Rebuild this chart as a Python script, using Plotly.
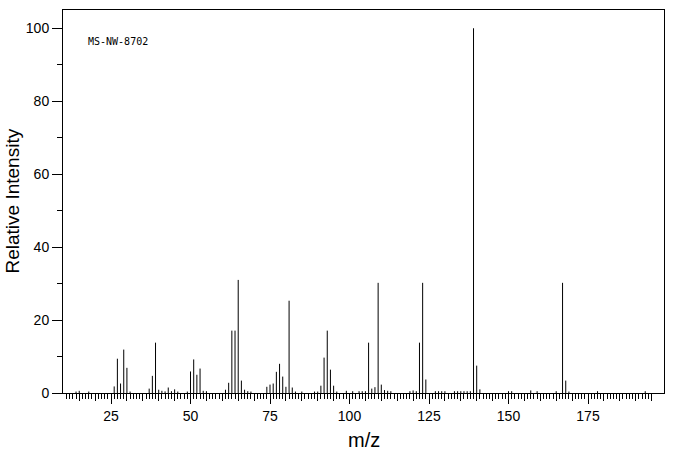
import plotly.graph_objects as go

# m/z values and relative intensities
mz = [14, 15, 18, 26, 27, 28, 29, 30, 31, 37, 38, 39, 40, 41, 42, 43, 44, 45, 46,
      49, 50, 51, 52, 53, 54, 55, 61, 62, 63, 64, 65, 66, 67, 68, 69, 74, 75, 76,
      77, 78, 79, 80, 81, 82, 83, 85, 89, 90, 91, 92, 93, 94, 95, 96, 99, 101,
      103, 104, 105, 106, 107, 108, 109, 110, 111, 112, 113, 119, 120, 121, 122,
      123, 124, 127, 128, 129, 130, 133, 134, 135, 136, 137, 138, 139, 140, 141,
      150, 151, 157, 159, 165, 167, 168, 169, 178, 193]
intensity = [0.4, 0.6, 0.4, 1.8, 9.4, 2.6, 11.9, 6.9, 0.4, 1.2, 4.7, 13.8, 0.9, 0.6,
             0.45, 1.5, 0.5, 1.0, 0.4, 0.4, 5.9, 9.2, 5.0, 6.7, 0.6, 0.5, 0.9, 2.8,
             17.1, 17.1, 31.0, 3.4, 0.9, 0.5, 0.4, 1.7, 2.3, 2.6, 5.8, 8.0, 4.5, 1.7,
             25.3, 1.5, 0.4, 0.4, 0.4, 0.4, 2.0, 9.7, 17.1, 6.4, 2.0, 0.4, 0.6, 0.5,
             0.5, 0.5, 0.5, 13.8, 1.2, 1.6, 30.2, 2.3, 0.8, 0.6, 0.5, 0.5, 0.7, 0.5,
             13.8, 30.2, 3.7, 0.5, 0.5, 0.5, 0.5, 0.5, 0.5, 0.5, 0.5, 0.5, 0.5, 100.0,
             7.5, 1.0, 0.5, 0.5, 0.7, 0.5, 0.5, 30.2, 3.4, 0.4, 0.5, 0.5]

x_major = [25, 50, 75, 100, 125, 150, 175]
x_medium = list(range(15, 196, 5))
x_minor = list(range(11, 196))
y_major = [0, 20, 40, 60, 80, 100]
y_minor = [10, 30, 50, 70, 90]
label_text = "MS-NW-8702"

# stick segments built from the data
xs, ys = [], []
for m, v in zip(mz, intensity):
    xs += [m, m, None]
    ys += [0, v, None]

fig = go.Figure()
fig.add_trace(go.Scatter(x=xs, y=ys, mode="lines",
                         line=dict(color="black", width=1),
                         hoverinfo="skip", showlegend=False))
# invisible trace to anchor the secondary (medium-tick) axis
fig.add_trace(go.Scatter(x=[x_medium[0]], y=[0], mode="markers",
                         marker=dict(opacity=0), xaxis="x2",
                         hoverinfo="skip", showlegend=False))

tick_font = dict(family="Liberation Sans", size=14, color="black")

fig.update_layout(
    width=676, height=455,
    margin=dict(l=63, r=12, t=10, b=62, autoexpand=False),
    paper_bgcolor="white", plot_bgcolor="white",
    xaxis=dict(range=[9.9, 198.9], tickmode="array", tickvals=x_major,
               ticks="outside", ticklen=10, tickwidth=1, tickcolor="black",
               showline=True, linecolor="black", linewidth=1, mirror=True,
               showgrid=False, zeroline=False, tickfont=tick_font,
               automargin=False,
               minor=dict(tickmode="array", tickvals=x_minor, ticks="outside",
                          ticklen=5, tickwidth=1, tickcolor="black", showgrid=False)),
    xaxis2=dict(range=[9.9, 198.9], overlaying="x", side="bottom",
                tickmode="array", tickvals=x_medium, ticks="outside",
                ticklen=7, tickwidth=1, tickcolor="black",
                showticklabels=False, showline=False, showgrid=False,
                zeroline=False, automargin=False),
    yaxis=dict(range=[0, 105], tickmode="array", tickvals=y_major,
               ticks="outside", ticklen=10, tickwidth=1, tickcolor="black",
               showline=True, linecolor="black", linewidth=1, mirror=True,
               showgrid=False, zeroline=False, tickfont=tick_font,
               automargin=False,
               minor=dict(tickmode="array", tickvals=y_minor, ticks="outside",
                          ticklen=5, tickwidth=1, tickcolor="black", showgrid=False)),
    annotations=[
        dict(text="m/z", xref="paper", yref="paper", x=0.5, y=0,
             xanchor="center", yanchor="middle", yshift=-47, showarrow=False,
             font=dict(family="Liberation Sans", size=20, color="black")),
        dict(text="Relative Intensity", xref="paper", yref="paper", x=0, y=0.5,
             xanchor="center", yanchor="middle", xshift=-51, textangle=-90,
             showarrow=False,
             font=dict(family="Liberation Sans", size=19, color="black")),
        dict(text=label_text, xref="paper", yref="paper", x=0, y=1,
             xanchor="left", yanchor="middle", xshift=23, yshift=-31,
             showarrow=False,
             font=dict(family="DejaVu Sans Mono", size=10, color="black")),
    ],
)

# remove the default page margin so the figure fills the window exactly
fig.write_html("out.html", config={"displayModeBar": False},
               post_script="document.body.style.margin='0';")
